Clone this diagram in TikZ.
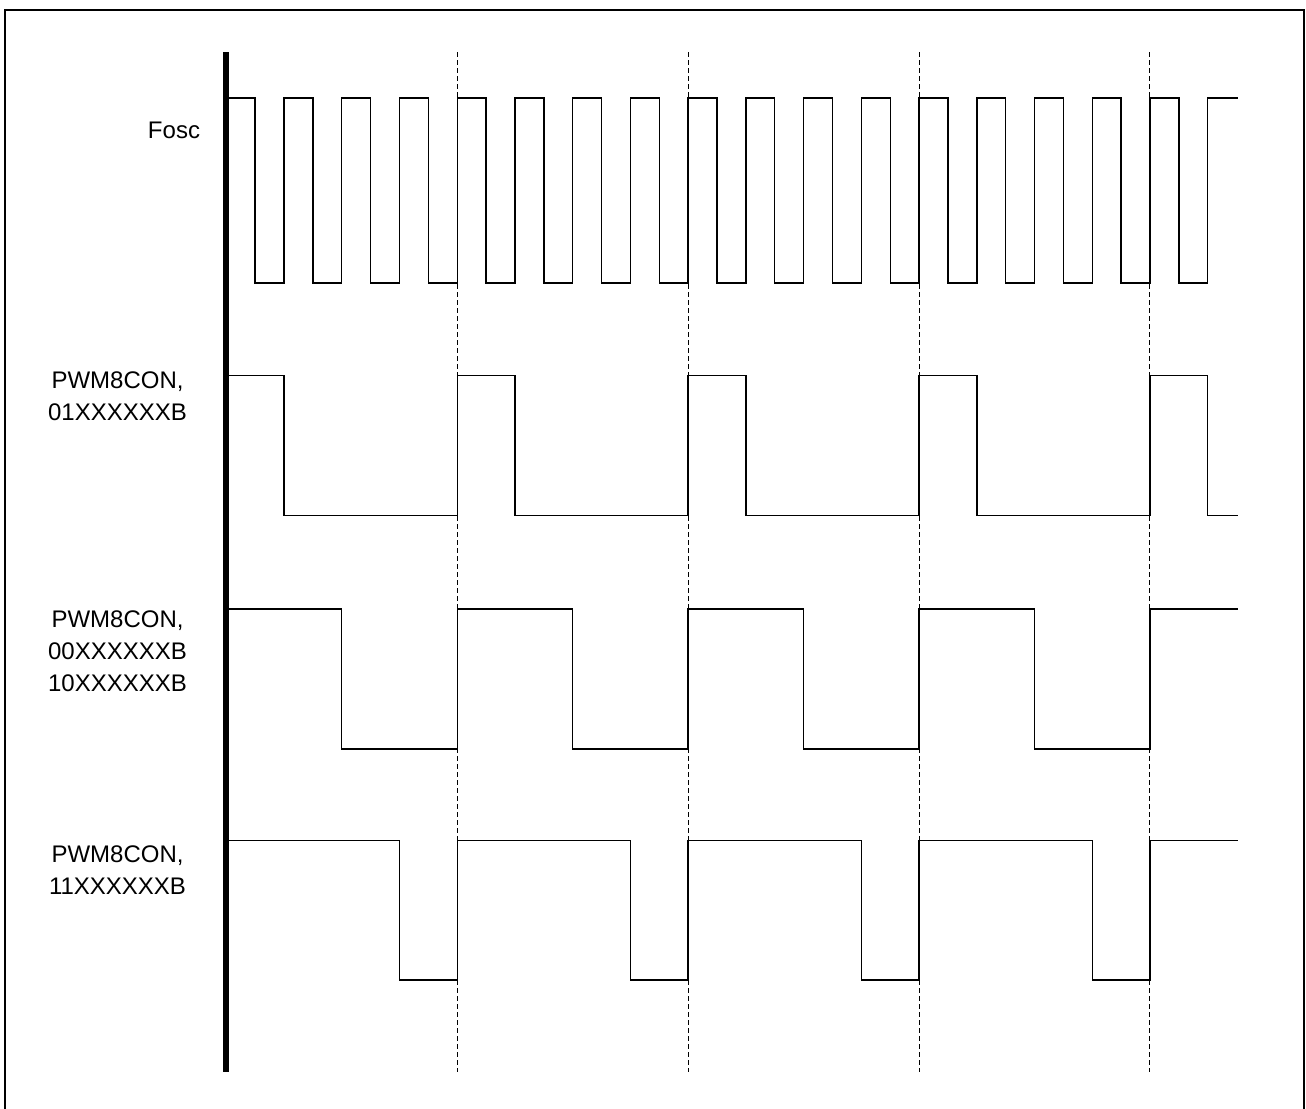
\documentclass[tikz,border=0pt]{standalone}
\usepackage{fontspec}
\setmainfont{Liberation Sans}
\usepackage{tikz}

\begin{document}
\begin{tikzpicture}[
  x=0.5pt, y=-0.5pt,
  sig/.style={line width=0.7pt, line join=miter},
  grid/.style={line width=0.5pt, dash pattern=on 2.5pt off 1.5pt},
  lbl/.style={font=\fontsize{12}{16}\selectfont, align=center, inner sep=0pt, anchor=base}]
    \useasboundingbox (0,0) rectangle (1306,1108);
    \draw[line width=0.7pt] (5,10) rectangle (1304,1120);
    \def\xo{226.3} \def\per{57.73}
    % time marks
    \foreach \k in {1,...,4}
        \draw[grid] ({\xo+4*\k*\per},52) -- ({\xo+4*\k*\per},1072);
    \draw[line width=2.7pt] (226,52) -- (226,1072);
    % labels (anchored at the last line)
    \node[lbl] (fosc) at (174,138) {Fosc};
    \node[lbl] (pwma) at (117.5,420) {PWM8CON,\\01XXXXXXB};
    \node[lbl] (pwmb) at (117.5,691) {PWM8CON,\\00XXXXXXB\\10XXXXXXB};
    \node[lbl] (pwmc) at (117.5,894) {PWM8CON,\\11XXXXXXB};
    % clock
    \draw[sig] (\xo,98) \foreach \k in {0,...,16} {
        -| ({\xo+(\k+0.5)*\per},283) -| ({\xo+(\k+1)*\per},98) } -- (1238,98);
    % pwm outputs, duty 1/4, 2/4, 3/4
    \draw[sig] (\xo,375.5) \foreach \n in {0,...,3} {
        -| ({\xo+(4*\n+1)*\per},515.5) -| ({\xo+4*(\n+1)*\per},375.5) }
        -| ({\xo+17*\per},515.5) -- (1238,515.5);
    \draw[sig] (\xo,609) \foreach \n in {0,...,3} {
        -| ({\xo+(4*\n+2)*\per},749) -| ({\xo+4*(\n+1)*\per},609) } -- (1238,609);
    \draw[sig] (\xo,840.5) \foreach \n in {0,...,3} {
        -| ({\xo+(4*\n+3)*\per},980) -| ({\xo+4*(\n+1)*\per},840.5) } -- (1238,840.5);
\end{tikzpicture}
\end{document}
